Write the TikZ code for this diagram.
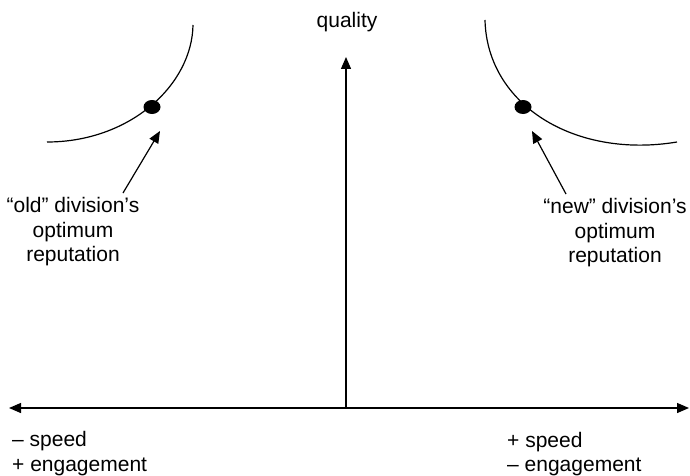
\documentclass[tikz,border=0pt]{standalone}
\usepackage{fontspec}
\setmainfont{Liberation Sans}
\usetikzlibrary{arrows.meta,shapes.geometric}
\tikzset{
  axisline/.style={line width=1.3pt},
  curve/.style={line width=1.2pt},
  pointer/.style={line width=1.2pt, -{Triangle[length=12pt,width=10pt]}},
  dot/.style={ellipse, fill, inner sep=0pt, minimum width=17pt, minimum height=14pt},
  caption/.style={align=center, inner sep=0pt}
}
\begin{document}
\begin{tikzpicture}[x=1pt, y=1pt,
  every node/.style={font=\fontsize{21}{24.5}\selectfont}]
\useasboundingbox (0,0) rectangle (690,475);
% axes
\coordinate (west) at (9,67);
\coordinate (east) at (689,67);
\coordinate (origin) at (346,67);
\coordinate (top) at (346,418);
\draw[axisline, {Triangle[length=12pt,width=10pt]}-{Triangle[length=12pt,width=10pt]}]
    (west) -- (east);
\draw[axisline, -{Triangle[length=12pt,width=10pt]}]
    (origin) -- (top);
\node (quality) at (347,453) {quality};
% indifference curves
\draw[curve] (193,450) .. controls (192,390) and (130,333) .. (47,333);
\draw[curve] (485,455) .. controls (487,370) and (575,316) .. (677,333);
\node[dot] (olddot) at (152,368) {};
\node[dot] (newdot) at (523,368) {};
% labels and pointers
\node[caption] (oldlabel) at (73,243) {“old” division’s\\optimum\\reputation};
\node[caption] (newlabel) at (615,242) {“new” division’s\\optimum\\reputation};
\coordinate (oldtail) at (123,282);
\coordinate (oldtip) at (160,344);
\coordinate (newtail) at (566,281);
\coordinate (newtip) at (532,344);
\draw[pointer] (oldtail) -- (oldtip);
\draw[pointer] (newtail) -- (newtip);
% ends of the horizontal axis
\node[anchor=west, align=left, inner sep=0pt] (leftend) at (12,21.5)
    {– speed\\+ engagement};
\node[anchor=west, align=left, inner sep=0pt] (rightend) at (507,21)
    {+ speed\\– engagement};
\end{tikzpicture}
\end{document}
